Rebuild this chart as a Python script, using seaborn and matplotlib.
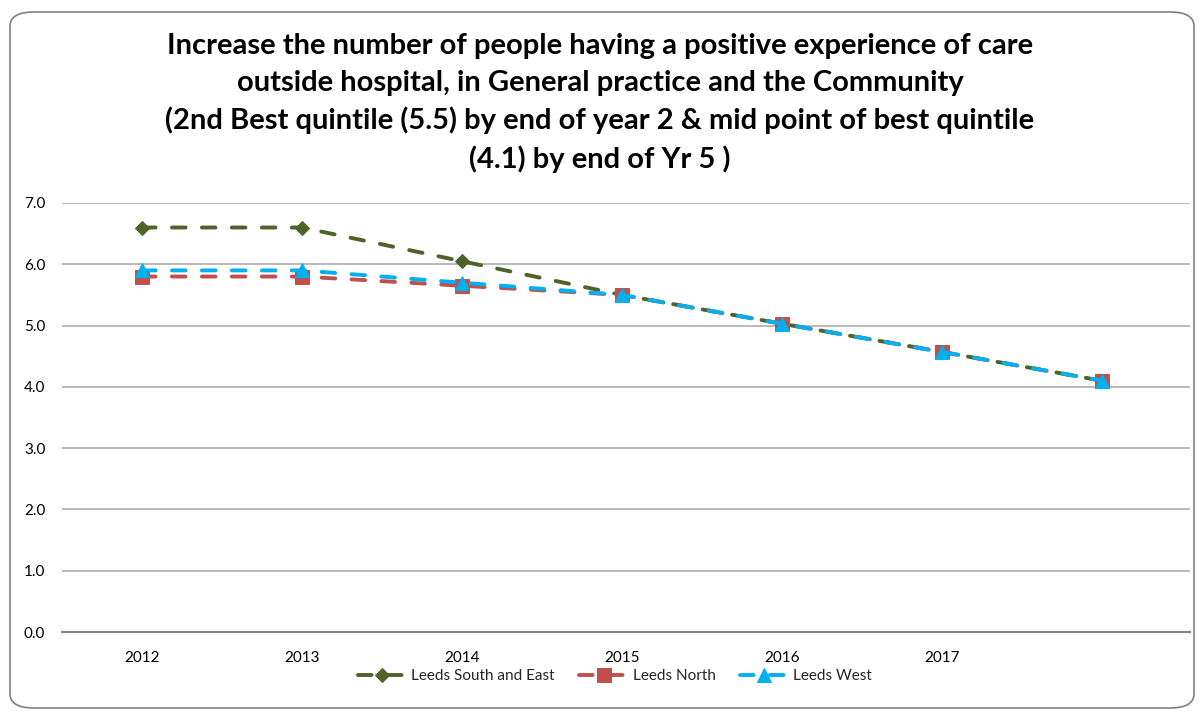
import matplotlib
matplotlib.use("Agg")
import matplotlib.pyplot as plt
from matplotlib.patches import FancyBboxPatch
import seaborn as sns
import pandas as pd

years = ["2012", "2013", "2014", "2015", "2016", "2017", ""]
south_east = [6.6, 6.6, 6.05, 5.5, 5.03, 4.57, 4.1]
north = [5.8, 5.8, 5.65, 5.5, 5.03, 4.57, 4.1]
west = [5.9, 5.9, 5.7, 5.5, 5.03, 4.57, 4.1]
y_ticks = [0.0, 1.0, 2.0, 3.0, 4.0, 5.0, 6.0, 7.0]

title = ("Increase the number of people having a positive experience of care\n"
         "outside hospital, in General practice and the Community\n"
         "(2nd Best quintile (5.5) by end of year 2 & mid point of best quintile\n"
         "(4.1) by end of Yr 5 )")

sns.set_theme(style="white")
plt.rcParams["font.family"] = ["Lato", "DejaVu Sans"]

fig = plt.figure(figsize=(12, 7.11), dpi=100)
ax = fig.add_axes([62 / 1200, 1 - 632 / 711, (1190 - 62) / 1200, (632 - 203) / 711])

series = [
    ("Leeds South and East", south_east, "#4F6228", "D", 7.5),
    ("Leeds North", north, "#C0504D", "s", 9.5),
    ("Leeds West", west, "#00B0F0", "^", 9.5),
]

pos = list(range(len(years)))
handles = []
for name, vals, color, marker, ms in series:
    df = pd.DataFrame({"x": pos, "y": vals})
    sns.lineplot(data=df, x="x", y="y", ax=ax, color=color, linewidth=2.8,
                 marker=marker, markersize=ms, markeredgecolor=color,
                 markerfacecolor=color, label=name, legend=False)
    line = ax.lines[-1]
    line.set_dashes((3.5, 4.2))
    line.set_dash_capstyle("round")
    handles.append(line)

ax.set_xlim(-0.5, 6.55)
ax.set_ylim(0, 7)
ax.set_yticks(y_ticks)
ax.set_yticklabels([f"{v:.1f}" for v in y_ticks])
ax.set_xticks(pos[:-1])
ax.set_xticklabels(years[:-1])
ax.set_xlabel("")
ax.set_ylabel("")
ax.tick_params(axis="both", labelsize=11, colors="black", length=0)
ax.tick_params(axis="y", pad=12)
ax.tick_params(axis="x", pad=14)
ax.yaxis.grid(True, color="#A6A6A6", linewidth=1.1)
ax.set_axisbelow(True)
for s in ["left", "right", "top"]:
    ax.spines[s].set_visible(False)
ax.spines["bottom"].set_color("#868686")
ax.spines["bottom"].set_linewidth(1.5)

fig.text(0.5, 1 - 33 / 711, title, ha="center", va="top", fontsize=21,
         fontweight="bold", color="black", linespacing=1.5)

leg = fig.legend(handles=handles, labels=[s[0] for s in series], loc="center",
                 bbox_to_anchor=(0.5125, 1 - 676 / 711), ncol=3, frameon=False,
                 fontsize=11, handlelength=3.2, columnspacing=1.6,
                 handletextpad=0.3)

border = FancyBboxPatch((10 / 1200, 3 / 711), 1184 / 1200, 696 / 711,
                        boxstyle="round,pad=0,rounding_size=0.02",
                        transform=fig.transFigure, fill=False,
                        edgecolor="#808080", linewidth=1.2)
fig.patches.append(border)

fig.savefig("out.png", dpi=100)
